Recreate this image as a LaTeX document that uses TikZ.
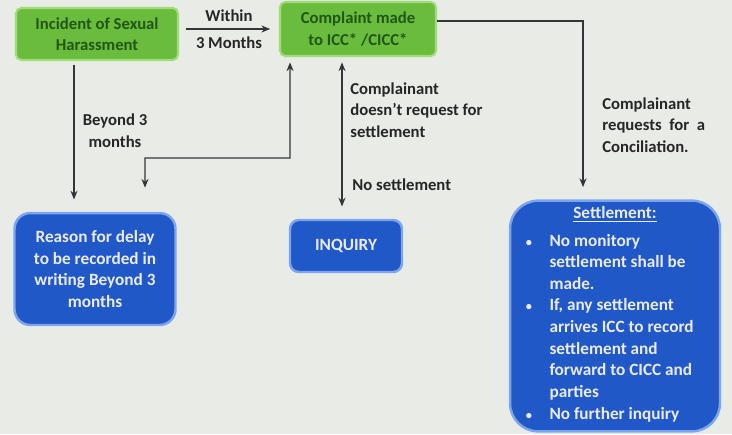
\documentclass[tikz,border=0pt]{standalone}
\usepackage{fontspec}
\setmainfont{Carlito}
\usepackage{tikz}
\usetikzlibrary{arrows.meta, positioning, calc}
\definecolor{slidebg}{RGB}{233, 236, 230}
\definecolor{leafgreen}{RGB}{106, 188, 60}
\definecolor{paleleaf}{RGB}{160, 220, 120}
\definecolor{darkleaf}{RGB}{34, 86, 20}
\definecolor{royalblue}{RGB}{32, 88, 200}
\definecolor{paleblue}{RGB}{125, 165, 235}
\definecolor{inkgrey}{RGB}{50, 54, 58}
\tikzstyle{greenbox} = [
    rectangle,
    rounded corners=3pt,
    align=center,
    draw=paleleaf,
    line width=1.2pt,
    fill=leafgreen,
    text=darkleaf,
    font=\fontsize{9.5}{12}\selectfont\bfseries
]
\tikzstyle{bluebox} = [
    rectangle,
    rounded corners=8pt,
    align=center,
    draw=paleblue,
    line width=1.4pt,
    fill=royalblue,
    text=white!92!blue,
    font=\fontsize{9.8}{12.3}\selectfont\bfseries
]
\tikzstyle{arrow} = [
    line width=0.8pt,
    -{Stealth[length=5pt, width=4pt]},
    color=inkgrey
]
\tikzstyle{note} = [
    align=left,
    text=black!85,
    inner sep=0pt,
    font=\fontsize{9.5}{12.3}\selectfont\bfseries
]

\begin{document}
\begin{tikzpicture}[x=0.02cm, y=-0.02cm]
    \fill[slidebg] (0,0) rectangle (732,434);
    % Boxes
    \node[greenbox, minimum width=3.24cm, minimum height=1.04cm] (incident) at (97,34) {Incident of Sexual\\Harassment};
    \node[greenbox, minimum width=3.12cm, minimum height=1.08cm] (complaint) at (358,29) {Complaint made\\to ICC* /CICC*};
    \node[bluebox, rounded corners=9pt, minimum width=3.22cm, minimum height=2.24cm] (reason) at (95,269) {Reason for delay\\to be recorded in\\writing Beyond 3\\months};
    \node[bluebox, rounded corners=5pt, minimum width=2.24cm, minimum height=1.04cm] (inquiry) at (346,246) {INQUIRY};
    \node[bluebox, rounded corners=16pt, minimum width=4.2cm, minimum height=4.56cm] (settle) at (615,316) {%
        \underline{Settlement:}\\[4pt]
        \begin{tabular}{@{}c@{\hspace{10pt}}l@{}}
            {\scriptsize\textbullet} & No monitory\\
                        & settlement shall be\\
                        & made.\\
            {\scriptsize\textbullet} & If, any settlement\\
                        & arrives ICC to record\\
                        & settlement and\\
                        & forward to CICC and\\
                        & parties\\
            {\scriptsize\textbullet} & No further inquiry
        \end{tabular}\hspace*{6pt}};

    % Arrows
    \draw[arrow, shorten <=4pt, shorten >=5pt] (incident.east |- complaint.west) -- node[note, above=4pt, align=center]{Within} node[note, below=4pt, align=center]{3 Months} (complaint.west);
    \draw[arrow, shorten <=2pt, shorten >=7pt] ([xshift=-0.46cm]incident.south) -- ([xshift=-0.46cm]incident.south |- reason.north);
    \draw[arrow, {Stealth[length=5pt, width=4pt]}-{Stealth[length=5pt, width=4pt]}, shorten <=3pt, shorten >=7pt]
        ([xshift=-1.36cm]complaint.south) |- (145,158) -- ([xshift=1.0cm]reason.north |- 0,200);
    \draw[arrow, {Stealth[length=5pt, width=4pt]}-{Stealth[length=5pt, width=4pt]}, shorten <=3pt, shorten >=7pt]
        ([xshift=-0.32cm]complaint.south) -- ([xshift=-0.32cm]complaint.south |- inquiry.north);
    \draw[arrow, shorten >=7pt] ([yshift=0.16cm]complaint.east) -| ([xshift=-0.64cm]settle.north);

    % Labels
    \node[note, align=center] (beyond) at (115,131) {Beyond 3\\months};
    \node[note, anchor=north west] (norequest) at (350,82) {Complainant\\doesn't request for\\settlement};
    \node[note, anchor=west] (nosettle) at (352,185) {No settlement};
    \node[note, anchor=north west] (conciliate) at (602,97) {Complainant\\requests\ \ for\ \ a\\Conciliation.};
\end{tikzpicture}
\end{document}
